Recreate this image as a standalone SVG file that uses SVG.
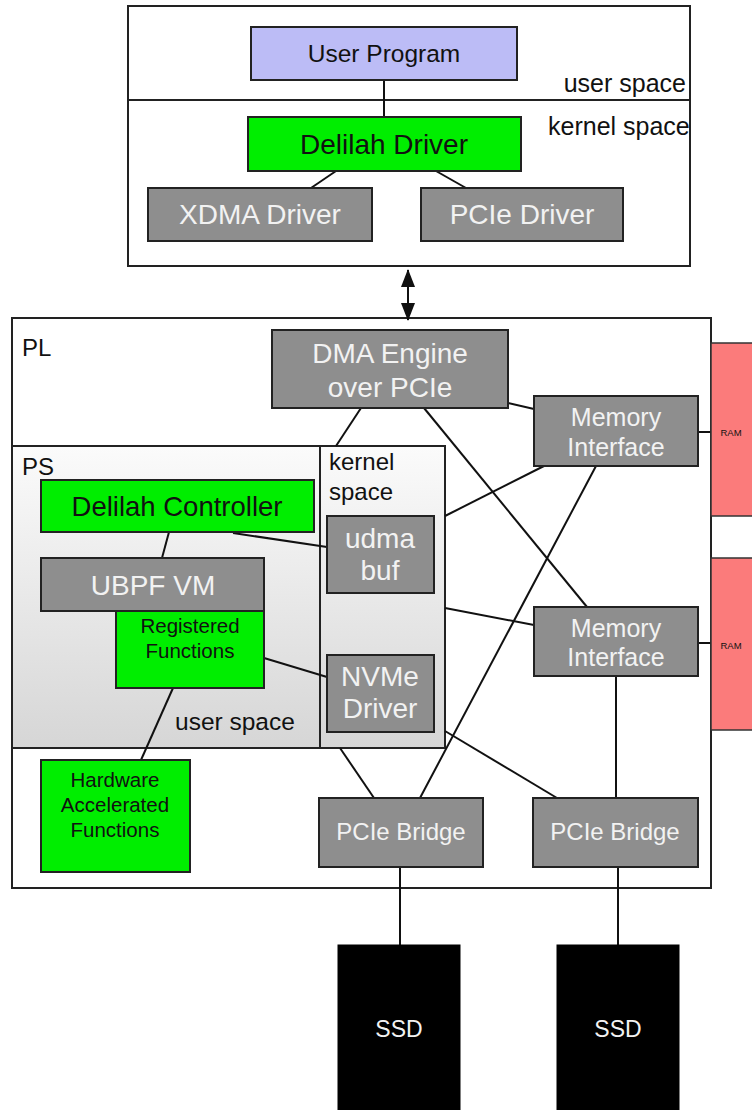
<svg xmlns="http://www.w3.org/2000/svg" width="752" height="1110" viewBox="0 0 752 1110">
<style>
text{font-family:"Liberation Sans",Arial,sans-serif;}
.frame{fill:#fff;stroke:#222;stroke-width:2;}
.gray{fill:#8e8e8e;stroke:#222;stroke-width:2;}
.green{fill:#00ee00;stroke:#222;stroke-width:2;}
.lav{fill:#bcbcf6;stroke:#222;stroke-width:2;}
.ram{fill:#fb7b7b;stroke:#333;stroke-width:1.5;}
.ssd{fill:#000;stroke:#000;}
.lt{fill:#f2f2f2;text-anchor:middle;}
.dk{fill:#111;text-anchor:middle;}
.lbl{fill:#111;}
.c{stroke:#111;stroke-width:2;fill:none;}
</style>
<defs>
<linearGradient id="psg" x1="0" y1="0" x2="0" y2="1">
<stop offset="0" stop-color="#fbfbfb"/>
<stop offset="1" stop-color="#d6d6d6"/>
</linearGradient>
<marker id="ah" viewBox="0 0 18 14" refX="17" refY="7" markerWidth="18" markerHeight="14" markerUnits="userSpaceOnUse" orient="auto-start-reverse">
<path d="M0,0 L18,7 L0,14 Z" fill="#111"/>
</marker>
</defs>

<g id="host">
<rect class="frame" x="128" y="6" width="562" height="260"/>
<line x1="128" y1="100" x2="690" y2="100" stroke="#222" stroke-width="2"/>
<text class="lbl" x="686" y="92" font-size="25" text-anchor="end">user space</text>
<text class="lbl" x="548" y="135" font-size="25">kernel space</text>
</g>

<g id="pl">
<rect class="frame" x="12" y="318" width="699" height="570"/>
<text class="lbl" x="22" y="356" font-size="24">PL</text>
</g>

<g id="ps">
<rect x="12" y="446" width="433" height="302" fill="url(#psg)" stroke="#222" stroke-width="2"/>
<line x1="320" y1="446" x2="320" y2="748" stroke="#222" stroke-width="2"/>
<text class="lbl" x="22" y="475" font-size="24">PS</text>
<text class="lbl" x="329" y="470" font-size="24">kernel</text>
<text class="lbl" x="329" y="500" font-size="24">space</text>
<text class="lbl" x="175" y="730" font-size="24.5">user space</text>
</g>

<g id="connectors">
<line class="c" x1="384" y1="80" x2="384" y2="117"/>
<line class="c" x1="336" y1="171" x2="311" y2="188"/>
<line class="c" x1="436" y1="171" x2="466" y2="188"/>
<line class="c" x1="408" y1="270" x2="408" y2="320" marker-start="url(#ah)" marker-end="url(#ah)"/>
<line class="c" x1="361" y1="408" x2="336" y2="446"/>
<line class="c" x1="424" y1="408" x2="587" y2="607"/>
<line class="c" x1="508" y1="403" x2="534" y2="409"/>
<line class="c" x1="544" y1="466" x2="445" y2="516"/>
<line class="c" x1="596" y1="466" x2="420" y2="798"/>
<line class="c" x1="445" y1="608" x2="534" y2="625"/>
<line class="c" x1="698" y1="432" x2="711" y2="432"/>
<line class="c" x1="698" y1="643" x2="711" y2="643"/>
<line class="c" x1="169" y1="532" x2="162" y2="558"/>
<line class="c" x1="233" y1="533" x2="327" y2="547"/>
<line class="c" x1="264" y1="658" x2="327" y2="677"/>
<line class="c" x1="173" y1="688" x2="141" y2="760"/>
<line class="c" x1="340" y1="748" x2="374" y2="798"/>
<line class="c" x1="445" y1="731" x2="557" y2="798"/>
<line class="c" x1="616" y1="676" x2="616" y2="798"/>
<line class="c" x1="400" y1="867" x2="400" y2="945"/>
<line class="c" x1="618" y1="867" x2="618" y2="945"/>
</g>

<g id="user-program">
<rect class="lav" x="251" y="27" width="266" height="53"/>
<text class="dk" x="384" y="62" font-size="24.5">User Program</text>
</g>
<g id="delilah-driver">
<rect class="green" x="248" y="117" width="273" height="54"/>
<text class="dk" x="384" y="154" font-size="28">Delilah Driver</text>
</g>
<g id="xdma-driver">
<rect class="gray" x="148" y="188" width="224" height="53"/>
<text class="lt" x="260" y="224" font-size="28">XDMA Driver</text>
</g>
<g id="pcie-driver">
<rect class="gray" x="421" y="188" width="202" height="53"/>
<text class="lt" x="522" y="224" font-size="28">PCIe Driver</text>
</g>

<g id="dma-engine">
<rect class="gray" x="272" y="330" width="236" height="78"/>
<text class="lt" x="390" y="363" font-size="28">DMA Engine</text>
<text class="lt" x="390" y="397" font-size="28">over PCIe</text>
</g>
<g id="memory-interface-1">
<rect class="gray" x="534" y="396" width="164" height="70"/>
<text class="lt" x="616" y="426" font-size="25">Memory</text>
<text class="lt" x="616" y="456" font-size="25">Interface</text>
</g>
<g id="memory-interface-2">
<rect class="gray" x="534" y="607" width="164" height="69"/>
<text class="lt" x="616" y="637" font-size="25">Memory</text>
<text class="lt" x="616" y="666" font-size="25">Interface</text>
</g>
<g id="ram-1">
<rect class="ram" x="711" y="343" width="45" height="173"/>
<text class="dk" x="731" y="435.5" font-size="9.5">RAM</text>
</g>
<g id="ram-2">
<rect class="ram" x="711" y="558" width="45" height="172"/>
<text class="dk" x="731" y="648.5" font-size="9.5">RAM</text>
</g>

<g id="delilah-controller">
<rect class="green" x="41" y="480" width="273" height="52"/>
<text class="dk" x="177" y="516" font-size="27.5">Delilah Controller</text>
</g>
<g id="ubpf-vm">
<rect class="gray" x="41" y="558" width="223" height="53"/>
<text class="lt" x="153" y="595" font-size="28">UBPF VM</text>
</g>
<g id="registered-functions">
<rect class="green" x="116" y="611" width="148" height="77"/>
<text class="dk" x="190" y="633" font-size="20.5">Registered</text>
<text class="dk" x="190" y="658" font-size="20.5">Functions</text>
</g>
<g id="udma-buf">
<rect class="gray" x="327" y="516" width="107" height="77"/>
<text class="lt" x="380" y="548" font-size="28">udma</text>
<text class="lt" x="380" y="580" font-size="28">buf</text>
</g>
<g id="nvme-driver">
<rect class="gray" x="327" y="655" width="107" height="77"/>
<text class="lt" x="380" y="686" font-size="28">NVMe</text>
<text class="lt" x="380" y="718" font-size="28">Driver</text>
</g>

<g id="hw-accel">
<rect class="green" x="41" y="760" width="149" height="112"/>
<text class="dk" x="115" y="787" font-size="20.5">Hardware</text>
<text class="dk" x="115" y="812" font-size="20.5">Accelerated</text>
<text class="dk" x="115" y="837" font-size="20.5">Functions</text>
</g>
<g id="pcie-bridge-1">
<rect class="gray" x="319" y="798" width="164" height="69"/>
<text class="lt" x="401" y="840" font-size="24">PCIe Bridge</text>
</g>
<g id="pcie-bridge-2">
<rect class="gray" x="533" y="798" width="165" height="69"/>
<text class="lt" x="615" y="840" font-size="24">PCIe Bridge</text>
</g>

<g id="ssd-1">
<rect class="ssd" x="338" y="945" width="122" height="170"/>
<text class="lt" x="399" y="1037" font-size="23">SSD</text>
</g>
<g id="ssd-2">
<rect class="ssd" x="557" y="945" width="122" height="170"/>
<text class="lt" x="618" y="1037" font-size="23">SSD</text>
</g>
</svg>
